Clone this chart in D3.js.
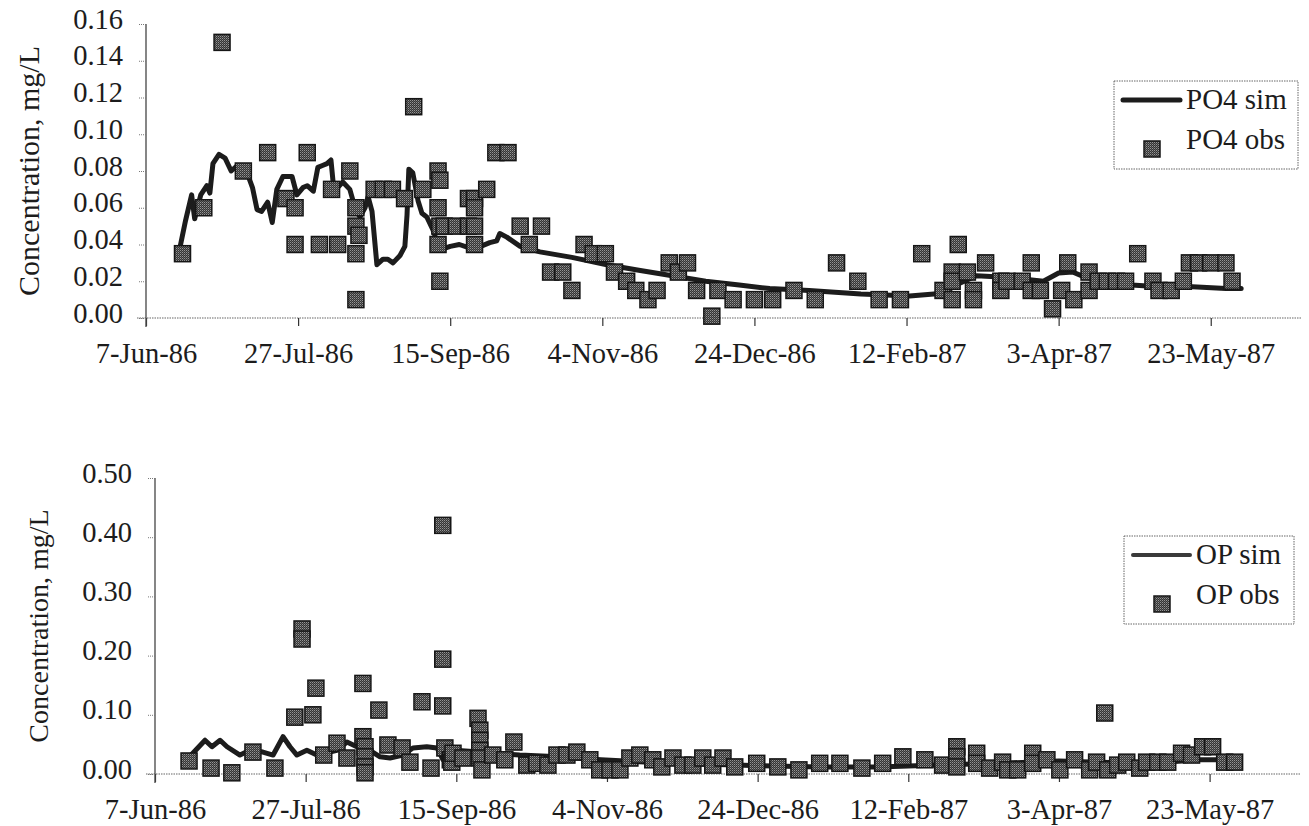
<!DOCTYPE html>
<html><head><meta charset="utf-8">
<script src="https://cdn.jsdelivr.net/npm/d3@7"></script>
<style>
body{margin:0;background:#fff;}
svg, svg text{font-family:"Liberation Serif","Times New Roman",Tinos,"DejaVu Serif",serif !important;}
</style></head>
<body><svg id="c" width="1309" height="826"></svg>
<script>
// ---------- DATA (days since 7-Jun-86, concentration mg/L) ----------
const startDate = "1986-06-07";
const tickDays = [0, 50, 100, 150, 200, 250, 300, 350];
const tickLabels = ["7-Jun-86","27-Jul-86","15-Sep-86","4-Nov-86","24-Dec-86","12-Feb-87","3-Apr-87","23-May-87"];
const po4Ticks = [0, 0.02, 0.04, 0.06, 0.08, 0.10, 0.12, 0.14, 0.16];
const opTicks = [0, 0.10, 0.20, 0.30, 0.40, 0.50];

const po4SimDays = [11,13,15,16,18,20,21,22,24,26,28,30,33,35,36.5,38,40,41.5,43,45,48,49.6,51.6,53,55,56.5,58,59.5,60.8,61.5,63,64.7,67,68.7,70.3,72,73,74.3,75.9,77.9,79.5,81.2,83.5,85.1,85.8,86.4,87.7,89.4,90.7,92.3,94.3,96.6,100,103,106.5,110,113,115.3,116.3,118.6,123,129.5,140,151.5,162,173,184,195,205,218,235,251,262,267.5,273,284,295,300,304.6,309,317,324,333,344,355,360];
const po4SimVals = [0.037,0.053,0.067,0.054,0.067,0.072,0.068,0.084,0.089,0.087,0.080,0.083,0.080,0.071,0.059,0.058,0.063,0.052,0.070,0.077,0.077,0.067,0.071,0.072,0.069,0.082,0.083,0.084,0.086,0.074,0.071,0.074,0.070,0.060,0.055,0.060,0.066,0.058,0.029,0.032,0.032,0.030,0.034,0.039,0.056,0.081,0.079,0.064,0.057,0.055,0.048,0.037,0.039,0.040,0.038,0.039,0.041,0.042,0.046,0.044,0.039,0.036,0.033,0.029,0.026,0.023,0.020,0.018,0.016,0.015,0.013,0.012,0.0135,0.019,0.023,0.022,0.020,0.0245,0.025,0.022,0.021,0.018,0.017,0.017,0.016,0.016];

const po4ObsDays = [12,19,25,32,40,46,49,49,53,57,61,63,67,69,69,70,69,69,75,78,81,85,88,91,96,96,96,96.6,96.6,96.6,98,102,106,106,108,108,108,108,112,115,119,123,126,130,133,137,140,144,147,151,154,158,161,165,168,172,175,178,181,186,188,193,200,206,213,220,227,234,241,248,255,262,267,265,265,265,270,272,272,276,281,281,283,288,291,291,294,298,301,303,305,310,310,313,316,319,322,326,331,333,337,341,343,346,350,355,357];
const po4ObsVals = [0.035,0.06,0.15,0.08,0.09,0.065,0.06,0.04,0.09,0.04,0.07,0.04,0.08,0.06,0.05,0.045,0.035,0.01,0.07,0.07,0.07,0.065,0.115,0.07,0.08,0.06,0.04,0.075,0.05,0.02,0.05,0.05,0.065,0.05,0.065,0.06,0.05,0.04,0.07,0.09,0.09,0.05,0.04,0.05,0.025,0.025,0.015,0.04,0.035,0.035,0.025,0.02,0.015,0.01,0.015,0.03,0.025,0.03,0.015,0.001,0.015,0.01,0.01,0.01,0.015,0.01,0.03,0.02,0.01,0.01,0.035,0.015,0.04,0.025,0.02,0.01,0.025,0.015,0.01,0.03,0.02,0.015,0.02,0.02,0.03,0.015,0.015,0.005,0.015,0.03,0.01,0.025,0.015,0.02,0.02,0.02,0.02,0.035,0.02,0.015,0.015,0.02,0.03,0.03,0.03,0.03,0.02];

const opSimDays = [12,16.6,18.9,21.6,23.9,28.2,31.5,35.8,39.2,42.5,44.8,47.1,50.4,53.7,60.4,63.7,67,71.3,74.7,78,82.3,85.6,90.2,93.6,95.6,97.9,99.5,107.8,121,134,148,164,181,201,221,240,260,280,300,313,330,347,360];
const opSimVals = [0.032,0.057,0.046,0.057,0.046,0.032,0.040,0.037,0.032,0.063,0.046,0.032,0.040,0.032,0.040,0.054,0.046,0.040,0.029,0.027,0.032,0.044,0.046,0.044,0.024,0.040,0.040,0.037,0.032,0.029,0.024,0.020,0.017,0.014,0.012,0.012,0.015,0.018,0.022,0.020,0.018,0.024,0.024];

const opObsDays = [11.3,18.6,25.5,32.5,39.8,46.4,48.8,48.8,52.4,53.4,56,60.4,63.7,69,69,69.7,69.7,69.7,69.7,74.3,77.3,82,84.6,88.6,91.6,95.5,95.5,95.5,96.2,98,98.5,98.9,102.2,107.2,107.8,107.8,107.8,107.8,108.5,112.1,116.1,119.1,123.4,126.7,130.4,133.4,136.7,140,144.3,147.6,151,154.3,157.6,160.9,165.2,168.2,171.9,175.2,178.5,181.8,185.1,188.5,192.4,199.7,206.7,213.7,220.6,227.3,234.6,241.5,248.2,255.5,261.4,266.1,266.1,266.1,272.7,272.7,277,281.3,283,286.3,291.3,291.3,296,300.3,305.2,310.2,312.5,315.2,316.2,319.5,322.5,326.8,329.1,332.8,336.1,340.7,344,347.7,351,355,358.3];
const opObsVals = [0.022,0.01,0.002,0.037,0.01,0.096,0.245,0.228,0.1,0.145,0.032,0.052,0.027,0.153,0.063,0.046,0.029,0.012,0.002,0.108,0.049,0.044,0.02,0.122,0.01,0.42,0.194,0.115,0.044,0.024,0.02,0.035,0.027,0.094,0.074,0.057,0.04,0.027,0.007,0.032,0.024,0.054,0.015,0.018,0.015,0.032,0.032,0.037,0.024,0.007,0.007,0.007,0.027,0.032,0.024,0.012,0.027,0.015,0.015,0.027,0.015,0.027,0.012,0.018,0.012,0.007,0.018,0.018,0.01,0.018,0.029,0.024,0.015,0.046,0.029,0.012,0.035,0.018,0.01,0.02,0.007,0.007,0.035,0.018,0.024,0.007,0.024,0.007,0.02,0.103,0.007,0.015,0.02,0.01,0.02,0.02,0.02,0.035,0.032,0.046,0.046,0.02,0.02];

// ---------- DRAW ----------
const svg = d3.select("#c");
const t0 = new Date(startDate + "T00:00:00Z");
const toDate = d => new Date(t0.getTime() + d * 86400000);
const INK = "#1c1c1c";

const defs = svg.append("defs");
const pat = defs.append("pattern").attr("id","ht").attr("patternUnits","userSpaceOnUse")
  .attr("width",2).attr("height",2);
pat.append("rect").attr("width",2).attr("height",2).attr("fill","#353535");
pat.append("rect").attr("width",1).attr("height",1).attr("fill","#959595");
pat.append("rect").attr("x",1).attr("y",1).attr("width",1).attr("height",1).attr("fill","#626262");

function panel(cfg){
  const x = d3.scaleUtc().domain([toDate(0), toDate(380)]).range([cfg.x0, cfg.x1]);
  const y = d3.scaleLinear().domain([0, cfg.ymax]).range([cfg.yb, cfg.yt]);
  const g = svg.append("g");

  // x axis (dotted baseline)
  g.append("line").attr("x1", cfg.x0 - 9).attr("x2", cfg.x1).attr("y1", y(0)).attr("y2", y(0))
    .attr("stroke","#666").attr("stroke-width",1.2).attr("stroke-dasharray","1.5,1");
  const xa = d3.axisBottom(x).tickValues(tickDays.map(toDate))
    .tickFormat((d,i) => tickLabels[i]).tickSize(8).tickSizeOuter(0);
  const gx = g.append("g").attr("transform", `translate(0,${y(0)})`).call(xa);
  gx.attr("font-family", null).attr("font-size", null);
  gx.select(".domain").remove();
  gx.selectAll(".tick line").attr("stroke","#333").attr("stroke-width",1.2);
  gx.selectAll(".tick text").attr("y", 45).attr("dy", 0).attr("fill", INK)
    .style("font-size","28.5px");

  // y axis
  g.append("line").attr("x1", cfg.x0).attr("x2", cfg.x0).attr("y1", cfg.yt).attr("y2", y(0) + 9)
    .attr("stroke","#444").attr("stroke-width",1.3);
  const ya = d3.axisLeft(y).tickValues(cfg.ticks).tickFormat(d3.format(".2f")).tickSize(8).tickSizeOuter(0);
  const gy = g.append("g").attr("transform", `translate(${cfg.x0},0)`).call(ya);
  gy.attr("font-family", null).attr("font-size", null);
  gy.select(".domain").remove();
  gy.selectAll(".tick line").attr("stroke","#777").attr("stroke-dasharray","1,1");
  gy.selectAll(".tick text").attr("x", -23).attr("dy", 4).attr("fill", INK)
    .style("font-size","28.5px");

  // y title
  g.append("text").attr("transform", `translate(${cfg.tx},${(cfg.yt + y(0)) / 2}) rotate(-90)`)
    .attr("text-anchor","middle").attr("dy","0.35em").attr("fill", INK)
    .style("font-size", cfg.tfs + "px").text("Concentration, mg/L");

  // sim line
  const line = d3.line().x(d => x(toDate(d[0]))).y(d => y(d[1])).curve(d3.curveLinear);
  g.append("path").datum(cfg.simD.map((d,i) => [d, cfg.simV[i]]))
    .attr("d", line).attr("fill","none").attr("stroke", INK).attr("stroke-width", 5)
    .attr("stroke-linejoin","round").attr("stroke-linecap","round");

  // obs markers
  const s = 16;
  g.selectAll("rect.obs").data(cfg.obsD.map((d,i) => [d, cfg.obsV[i]])).join("rect")
    .attr("class","obs")
    .attr("x", d => x(toDate(d[0])) - s/2).attr("y", d => y(d[1]) - s/2)
    .attr("width", s).attr("height", s)
    .attr("fill","url(#ht)").attr("stroke","#161616").attr("stroke-width",1.5);

  // legend
  const L = cfg.leg;
  g.append("rect").attr("x", L.x).attr("y", L.y).attr("width", L.w).attr("height", L.h)
    .attr("fill","#fff").attr("stroke","#666").attr("stroke-width",1).attr("stroke-dasharray","1.5,1");
  g.append("line").attr("x1", L.x + 9).attr("x2", L.x + 66).attr("y1", L.y + 19).attr("y2", L.y + 19)
    .attr("stroke", L.lc).attr("stroke-width", L.lw).attr("stroke-linecap","round");
  g.append("text").attr("x", L.x + 72).attr("y", L.y + 28).attr("fill", INK)
    .style("font-size","29px").text(cfg.names[0]);
  g.append("rect").attr("x", L.x + 38 - s/2).attr("y", L.y + 68 - s/2).attr("width", s).attr("height", s)
    .attr("fill","url(#ht)").attr("stroke","#161616").attr("stroke-width",1.5);
  g.append("text").attr("x", L.x + 72).attr("y", L.y + 68).attr("fill", INK)
    .style("font-size","29px").text(cfg.names[1]);
}

panel({x0:146, x1:1302, yb:318, yt:24, ymax:0.16, ticks:po4Ticks, tx:28, tfs:30,
  simD:po4SimDays, simV:po4SimVals, obsD:po4ObsDays, obsV:po4ObsVals,
  names:["PO4 sim","PO4 obs"], leg:{x:1114, y:81, w:184, h:88, lc:INK, lw:5}});
panel({x0:155, x1:1300, yb:774, yt:478, ymax:0.5, ticks:opTicks, tx:38, tfs:28,
  simD:opSimDays, simV:opSimVals, obsD:opObsDays, obsV:opObsVals,
  names:["OP sim","OP obs"], leg:{x:1124, y:536, w:170, h:88, lc:"#3a3a3a", lw:4}});
</script>
</body></html>
